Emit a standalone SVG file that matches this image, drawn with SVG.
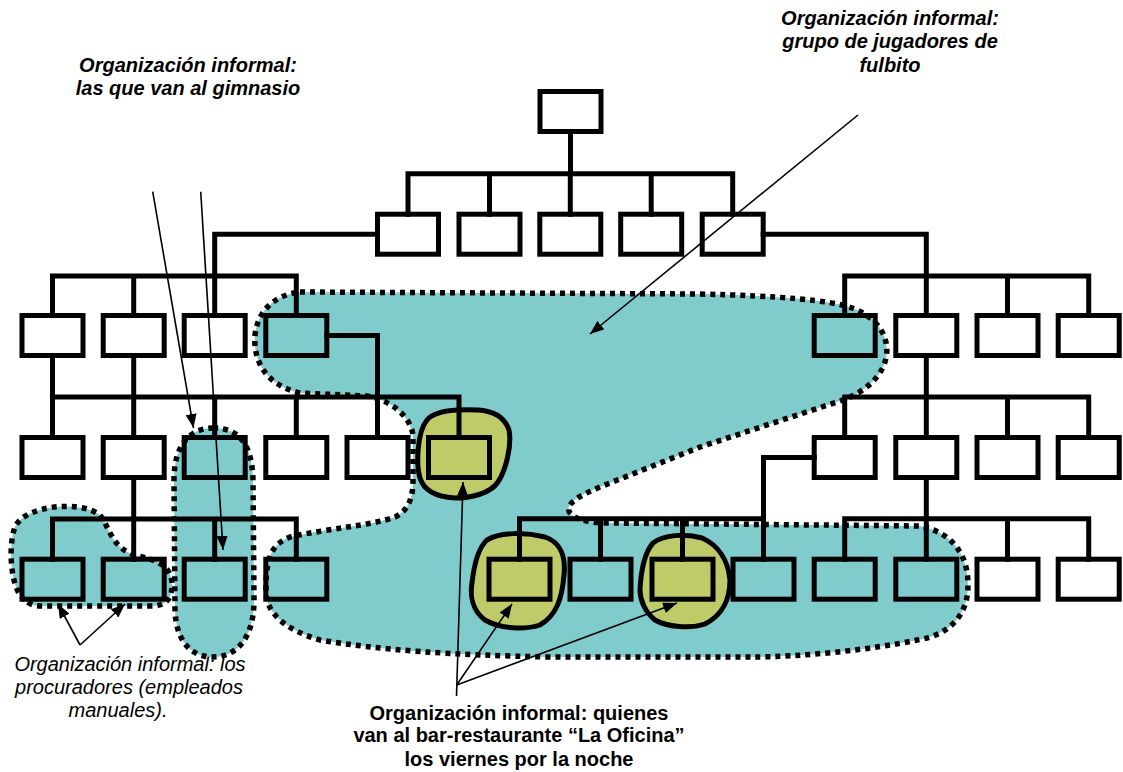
<svg xmlns="http://www.w3.org/2000/svg" width="1123" height="772" viewBox="0 0 1123 772">
  <defs>
    <style>
      .box { fill: none; stroke: #000; stroke-width: 5; }
      .wire { fill: none; stroke: #000; stroke-width: 5; stroke-linejoin: miter; stroke-linecap: square; }
      .group { fill: #80CBCB; stroke: #000; stroke-width: 5.5; stroke-dasharray: 5 5; }
      .sub { fill: #BFCB69; stroke: #000; stroke-width: 5; }
      .pointer { fill: none; stroke: #000; stroke-width: 1.6; marker-end: url(#head); }
      .lbl { font-family: "Liberation Sans", Arial, sans-serif; font-size: 20px; fill: #000; text-anchor: middle; }
      .bi { font-weight: bold; font-style: italic; }
      .b { font-weight: bold; }
      .i { font-style: italic; }
    </style>
    <marker id="head" viewBox="0 0 14 11" refX="14" refY="5.5" markerWidth="14" markerHeight="11" markerUnits="userSpaceOnUse" orient="auto">
      <path d="M0,0 L14,5.5 L0,11 z" fill="#000"/>
    </marker>
  </defs>

  <rect x="0" y="0" width="1123" height="772" fill="#fff"/>

  <!-- captions -->
  <g id="labels">
    <text class="lbl bi" x="188" y="72">Organización informal:</text>
    <text class="lbl bi" x="188" y="95">las que van al gimnasio</text>
    <text class="lbl bi" x="890" y="25">Organización informal:</text>
    <text class="lbl bi" x="890" y="48">grupo de jugadores de</text>
    <text class="lbl bi" x="890" y="72">fulbito</text>
    <text class="lbl i" x="130" y="671">Organización informal: los</text>
    <text class="lbl i" x="129" y="694">procuradores (empleados</text>
    <text class="lbl i" x="118" y="717">manuales).</text>
    <text class="lbl b" x="519" y="720">Organización informal: quienes</text>
    <text class="lbl b" x="519" y="742">van al bar-restaurante “La Oficina”</text>
    <text class="lbl b" x="519" y="766">los viernes por la noche</text>
  </g>

  <!-- informal groups (dotted outlines) -->
  <g id="group-fulbito">
    <path class="group" d="M300,292 L700,294 C780,296 830,300 852,308 C880,318 890,340 886,358 C882,378 862,394 840,401 L700,447 L600,487 C575,497 562,507 572,515 C578,520 590,523 610,523 L920,526 C950,532 968,552 968,585 C968,615 950,635 917,640 C870,650 800,657 750,657 L550,657 C450,655 380,650 320,640 C285,630 265,612 266,590 C266,560 270,545 290,537 C330,528 370,526 395,517 C410,510 413,495 413,480 L413,435 C410,415 390,400 367,396 L300,393 C265,385 253,360 255,335 C258,310 275,295 300,292 Z"/>
  </g>
  <g id="group-gimnasio">
    <path class="group" d="M213,428 C240,428 252,445 253,480 L254,600 C254,640 235,657 213,657 C190,657 176,640 175,610 L174,480 C174,445 190,428 213,428 Z"/>
  </g>
  <g id="group-procuradores">
    <path class="group" d="M25,600 C10,590 8,545 15,527 C25,505 80,500 100,515 C110,528 112,550 138,556 C163,561 172,570 172,585 C172,600 165,606 150,606 L40,606 C33,606 28,603 25,600 Z"/>
  </g>
  <g id="group-oficina">
    <path class="sub" d="M427,420 C435,410 460,409 478,410 C495,411 505,418 509,430 C512,445 506,470 498,482 C490,494 470,498 455,498 C438,497 424,491 420,478 C416,465 417,432 427,420 Z"/>
    <path class="sub" d="M487,540 C500,532 525,532 545,537 C560,542 566,556 564,575 C562,598 557,615 540,625 C525,630 500,629 485,620 C472,610 470,595 472,583 C474,565 478,548 487,540 Z"/>
    <path class="sub" d="M653,543 C663,535 685,533 702,538 C718,545 728,560 730,580 C730,598 723,615 705,624 C690,629 667,627 655,620 C645,612 640,600 640,590 C641,570 645,552 653,543 Z"/>
  </g>

  <!-- reporting lines -->
  <g id="connectors">
    <path class="wire" d="M570.5,131.5 V173.8"/>
    <path class="wire" d="M408,214.2 V173.8 H732.7 V214.2 M489.5,173.8 V214.2 M570.3,173.8 V214.2 M651.2,173.8 V214.2"/>
    <path class="wire" d="M377.5,234.2 H214.7 V315.5"/>
    <path class="wire" d="M52.5,315.5 V276 H296.3 V315.5 M133.7,276 V315.5"/>
    <path class="wire" d="M763.2,234.2 H926.3 V315.5"/>
    <path class="wire" d="M844.7,315.5 V276 H1088.7 V315.5 M1007.5,276 V315.5"/>
    <path class="wire" d="M52.5,355.5 V437.5 M133.7,355.5 V437.5"/>
    <path class="wire" d="M52.5,397 H459 V437.5 M214.7,397 V437.5 M296.3,397 V437.5"/>
    <path class="wire" d="M326.8,335.5 H377.5 V437.5"/>
    <path class="wire" d="M926.3,355.5 V437.5"/>
    <path class="wire" d="M844.7,437.5 V397 H1088.7 V437.5 M1007.5,397 V437.5"/>
    <path class="wire" d="M814.2,457.5 H763.5 V559.2"/>
    <path class="wire" d="M133.7,477.5 V559.2"/>
    <path class="wire" d="M52.5,559.2 V519 H296.3 V559.2 M214.7,519 V559.2"/>
    <path class="wire" d="M519.5,559.2 V518.7 H763.5 M600.5,518.7 V559.2 M682.5,518.7 V559.2"/>
    <path class="wire" d="M926.3,477.5 V559.2"/>
    <path class="wire" d="M844.7,559.2 V518.7 H1088.7 V559.2 M1007.5,518.7 V559.2"/>
  </g>

  <!-- positions -->
  <g id="n-top"><rect class="box" x="540" y="91.5" width="61" height="40"/></g>

  <g id="n-2-1"><rect class="box" x="377.5" y="214.2" width="61" height="40"/></g>
  <g id="n-2-2"><rect class="box" x="459" y="214.2" width="61" height="40"/></g>
  <g id="n-2-3"><rect class="box" x="539.8" y="214.2" width="61" height="40"/></g>
  <g id="n-2-4"><rect class="box" x="620.7" y="214.2" width="61" height="40"/></g>
  <g id="n-2-5"><rect class="box" x="702.2" y="214.2" width="61" height="40"/></g>

  <g id="n-3-1"><rect class="box" x="22" y="315.5" width="61" height="40"/></g>
  <g id="n-3-2"><rect class="box" x="103.2" y="315.5" width="61" height="40"/></g>
  <g id="n-3-3"><rect class="box" x="184.2" y="315.5" width="61" height="40"/></g>
  <g id="n-3-4"><rect class="box" x="265.8" y="315.5" width="61" height="40"/></g>
  <g id="n-3-5"><rect class="box" x="814.2" y="315.5" width="61" height="40"/></g>
  <g id="n-3-6"><rect class="box" x="895.8" y="315.5" width="61" height="40"/></g>
  <g id="n-3-7"><rect class="box" x="977" y="315.5" width="61" height="40"/></g>
  <g id="n-3-8"><rect class="box" x="1058.2" y="315.5" width="61" height="40"/></g>

  <g id="n-4-1"><rect class="box" x="22" y="437.5" width="61" height="40"/></g>
  <g id="n-4-2"><rect class="box" x="103.2" y="437.5" width="61" height="40"/></g>
  <g id="n-4-3"><rect class="box" x="184.2" y="437.5" width="61" height="40"/></g>
  <g id="n-4-4"><rect class="box" x="265.8" y="437.5" width="61" height="40"/></g>
  <g id="n-4-5"><rect class="box" x="347" y="437.5" width="61" height="40"/></g>
  <g id="n-4-6"><rect class="box" x="428.5" y="437.5" width="61" height="40"/></g>
  <g id="n-4-7"><rect class="box" x="814.2" y="437.5" width="61" height="40"/></g>
  <g id="n-4-8"><rect class="box" x="895.8" y="437.5" width="61" height="40"/></g>
  <g id="n-4-9"><rect class="box" x="977" y="437.5" width="61" height="40"/></g>
  <g id="n-4-10"><rect class="box" x="1058.2" y="437.5" width="61" height="40"/></g>

  <g id="n-5-1"><rect class="box" x="22" y="559.2" width="61" height="40"/></g>
  <g id="n-5-2"><rect class="box" x="103.2" y="559.2" width="61" height="40"/></g>
  <g id="n-5-3"><rect class="box" x="184.2" y="559.2" width="61" height="40"/></g>
  <g id="n-5-4"><rect class="box" x="265.8" y="559.2" width="61" height="40"/></g>
  <g id="n-5-5"><rect class="box" x="489" y="559.2" width="61" height="40"/></g>
  <g id="n-5-6"><rect class="box" x="570" y="559.2" width="61" height="40"/></g>
  <g id="n-5-7"><rect class="box" x="652" y="559.2" width="61" height="40"/></g>
  <g id="n-5-8"><rect class="box" x="733" y="559.2" width="61" height="40"/></g>
  <g id="n-5-9"><rect class="box" x="814.2" y="559.2" width="61" height="40"/></g>
  <g id="n-5-10"><rect class="box" x="895.8" y="559.2" width="61" height="40"/></g>
  <g id="n-5-11"><rect class="box" x="977" y="559.2" width="61" height="40"/></g>
  <g id="n-5-12"><rect class="box" x="1058.2" y="559.2" width="61" height="40"/></g>

  <!-- caption pointers -->
  <g id="pointers">
    <line class="pointer" x1="152.7" y1="191.7" x2="193.5" y2="428"/>
    <line class="pointer" x1="200.7" y1="191.7" x2="223" y2="550"/>
    <line class="pointer" x1="858" y1="115" x2="590" y2="334"/>
    <line class="pointer" x1="80" y1="645" x2="58" y2="604"/>
    <line class="pointer" x1="80" y1="645" x2="125" y2="604"/>
    <line class="pointer" x1="456.5" y1="696" x2="463" y2="482"/>
    <line class="pointer" x1="456.7" y1="685" x2="512" y2="604"/>
    <line class="pointer" x1="456.7" y1="685" x2="677" y2="603"/>
  </g>
</svg>
